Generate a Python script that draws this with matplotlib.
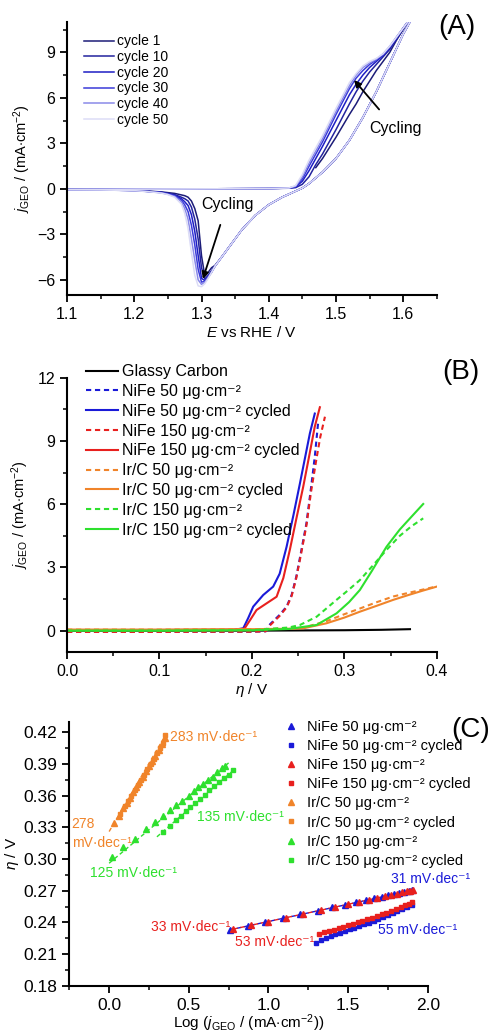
import numpy as np
import matplotlib
matplotlib.use('Agg')
import matplotlib.pyplot as plt
from matplotlib.ticker import MultipleLocator

plt.rcParams['font.family'] = ['Liberation Sans', 'DejaVu Sans']
plt.rcParams['mathtext.fontset'] = 'custom'
plt.rcParams['mathtext.rm'] = 'Liberation Sans'
plt.rcParams['mathtext.it'] = 'Liberation Sans:italic'
plt.rcParams['mathtext.bf'] = 'Liberation Sans:bold'

# ---------------- (A) CV cycling data ----------------
cycle_names = ['cycle 1', 'cycle 10', 'cycle 20', 'cycle 30', 'cycle 40', 'cycle 50']
cycle_colors = ['#1c1c78', '#23239e', '#1e1ec4', '#3a3ad8', '#8a8ae8', '#dcdcf6']

E_fwd = [1.10, 1.20, 1.30, 1.40, 1.43, 1.44, 1.45, 1.46, 1.47, 1.48, 1.50,
         1.52, 1.53, 1.54, 1.55, 1.56, 1.57, 1.58, 1.59, 1.60, 1.61]
j_fwd_c1 = [np.nan, np.nan, np.nan, np.nan, np.nan, np.nan, np.nan, np.nan, 1.4, 2.0, 3.4,
            4.9, 5.6, 6.4, 7.1, 7.8, 8.4, 9.0, 9.8, 10.5, 11.2]
j_fwd_c10 = [-0.05, -0.02, 0.0, 0.02, 0.04, 0.08, 0.3, 0.8, 1.6, 2.3, 3.9,
             5.6, 6.4, 7.1, 7.7, 8.2, 8.7, 9.2, 9.9, 10.6, 11.2]
j_fwd_c20 = [-0.05, -0.02, 0.0, 0.02, 0.05, 0.12, 0.5, 1.2, 2.0, 2.8, 4.5,
             6.2, 6.9, 7.5, 8.0, 8.4, 8.8, 9.3, 9.9, 10.6, 11.2]
j_fwd_c30 = [-0.05, -0.02, 0.0, 0.02, 0.05, 0.15, 0.65, 1.5, 2.3, 3.1, 4.9,
             6.6, 7.3, 7.8, 8.2, 8.5, 8.85, 9.35, 10.0, 10.6, 11.2]
j_fwd_c40 = [-0.05, -0.02, 0.0, 0.02, 0.05, 0.18, 0.8, 1.7, 2.5, 3.3, 5.1,
             6.8, 7.5, 8.0, 8.3, 8.55, 8.9, 9.4, 10.0, 10.6, 11.2]
j_fwd_c50 = [-0.05, -0.02, 0.0, 0.02, 0.06, 0.22, 0.95, 1.9, 2.7, 3.5, 5.3,
             7.0, 7.6, 8.1, 8.4, 8.6, 8.9, 9.4, 10.0, 10.6, 11.2]

E_rev = [1.61, 1.60, 1.58, 1.56, 1.54, 1.52, 1.50, 1.48, 1.46, 1.45,
         1.44, 1.43, 1.42, 1.40, 1.38, 1.36, 1.34, 1.33, 1.32, 1.315,
         1.31, 1.305, 1.30, 1.295, 1.29, 1.285, 1.28, 1.275, 1.27, 1.26,
         1.25, 1.24, 1.22, 1.20, 1.15, 1.10]
j_rev_c1 = [11.0, 10.2, 8.3, 6.4, 4.7, 3.2, 2.0, 1.1, 0.35, 0.05,
            -0.15, -0.35, -0.55, -1.05, -1.75, -2.7, -3.9, -4.5, -5.05, -5.2,
            -5.5, -5.77, -4.4, -2.1, -1.3, -0.8, -0.55, -0.45, -0.4, -0.3,
            -0.25, -0.2, -0.15, -0.1, -0.07, -0.05]
j_rev_c10 = [11.0, 10.2, 8.3, 6.4, 4.7, 3.2, 2.0, 1.1, 0.35, 0.05,
             -0.15, -0.35, -0.55, -1.05, -1.75, -2.7, -3.9, -4.5, -5.1, -5.4,
             -5.7, -5.95, -5.2, -3.3, -2.0, -1.2, -0.8, -0.65, -0.55, -0.38,
             -0.3, -0.22, -0.16, -0.1, -0.07, -0.05]
j_rev_c20 = [11.0, 10.2, 8.3, 6.4, 4.7, 3.2, 2.0, 1.1, 0.35, 0.05,
             -0.15, -0.35, -0.55, -1.05, -1.75, -2.7, -3.9, -4.5, -5.1, -5.45,
             -5.75, -6.05, -5.9, -4.4, -2.8, -1.7, -1.1, -0.85, -0.65, -0.42,
             -0.32, -0.24, -0.17, -0.11, -0.07, -0.05]
j_rev_c30 = [11.0, 10.2, 8.3, 6.4, 4.7, 3.2, 2.0, 1.1, 0.35, 0.05,
             -0.15, -0.35, -0.55, -1.05, -1.75, -2.7, -3.9, -4.5, -5.1, -5.5,
             -5.8, -6.1, -6.15, -5.3, -3.7, -2.4, -1.5, -1.05, -0.75, -0.45,
             -0.34, -0.25, -0.17, -0.11, -0.07, -0.05]
j_rev_c40 = [11.0, 10.2, 8.3, 6.4, 4.7, 3.2, 2.0, 1.1, 0.35, 0.05,
             -0.15, -0.35, -0.55, -1.05, -1.75, -2.7, -3.9, -4.5, -5.1, -5.5,
             -5.85, -6.15, -6.3, -6.0, -4.7, -3.3, -2.0, -1.3, -0.85, -0.5,
             -0.36, -0.26, -0.18, -0.12, -0.07, -0.05]
j_rev_c50 = [11.0, 10.2, 8.3, 6.4, 4.7, 3.2, 2.0, 1.1, 0.35, 0.05,
             -0.15, -0.35, -0.55, -1.05, -1.75, -2.7, -3.9, -4.5, -5.1, -5.5,
             -5.9, -6.25, -6.45, -6.4, -5.7, -4.2, -2.6, -1.6, -1.0, -0.55,
             -0.38, -0.28, -0.18, -0.12, -0.07, -0.05]

# ---------------- (B) polarisation curves ----------------
eta_gc = [0.0, 0.10, 0.20, 0.30, 0.34, 0.371]
j_gc = [0.0, 0.0, 0.0, 0.02, 0.04, 0.07]

eta_nife50 = [0.0, 0.10, 0.20, 0.215, 0.2195, 0.23, 0.2375, 0.243, 0.248, 0.253, 0.259, 0.264, 0.268, 0.2717]
j_nife50 = [-0.05, -0.05, -0.05, -0.03, 0.3, 0.75, 1.14, 1.7, 2.56, 3.7, 5.1, 6.8, 8.25, 9.9]
eta_nife50c = [0.0, 0.10, 0.18, 0.1906, 0.196, 0.2014, 0.2122, 0.223, 0.23, 0.2375, 0.245, 0.252, 0.2627, 0.268]
j_nife50c = [0.03, 0.03, 0.04, 0.11, 0.6, 1.14, 1.69, 2.09, 2.7, 3.98, 5.5, 7.0, 9.36, 10.3]
eta_nife150 = [0.0, 0.10, 0.20, 0.215, 0.2195, 0.23, 0.2375, 0.243, 0.248, 0.253, 0.259, 0.264, 0.270, 0.274, 0.279]
j_nife150 = [-0.06, -0.06, -0.05, -0.03, 0.25, 0.7, 1.1, 1.65, 2.5, 3.6, 5.0, 6.6, 8.2, 9.2, 10.15]
eta_nife150c = [0.0, 0.10, 0.18, 0.192, 0.198, 0.205, 0.216, 0.2267, 0.234, 0.241, 0.248, 0.2555, 0.262, 0.268, 0.2735]
j_nife150c = [0.03, 0.03, 0.04, 0.1, 0.5, 0.98, 1.3, 1.61, 2.5, 3.83, 5.3, 6.83, 8.3, 9.68, 10.6]
eta_irc50 = [0.0, 0.10, 0.20, 0.24, 0.2555, 0.2807, 0.30, 0.3168, 0.335, 0.3528, 0.37, 0.385, 0.40]
j_irc50 = [0.05, 0.05, 0.07, 0.1, 0.14, 0.45, 0.78, 1.05, 1.35, 1.62, 1.8, 1.95, 2.1]
eta_irc50c = [0.0, 0.10, 0.20, 0.24, 0.2555, 0.2807, 0.30, 0.3168, 0.335, 0.3528, 0.37, 0.385, 0.40]
j_irc50c = [0.05, 0.05, 0.07, 0.09, 0.11, 0.35, 0.62, 0.9, 1.18, 1.46, 1.7, 1.9, 2.09]
eta_irc150 = [0.0, 0.10, 0.20, 0.24, 0.252, 0.27, 0.2915, 0.305, 0.3168, 0.33, 0.3456, 0.36, 0.3725, 0.3853]
j_irc150 = [0.0, 0.0, 0.02, 0.15, 0.27, 0.66, 1.46, 1.95, 2.4, 3.05, 3.83, 4.5, 4.95, 5.33]
eta_irc150c = [0.0, 0.10, 0.20, 0.24, 0.2447, 0.27, 0.2915, 0.305, 0.3168, 0.33, 0.3456, 0.36, 0.3725, 0.3853]
j_irc150c = [0.0, 0.0, 0.02, 0.08, 0.11, 0.27, 0.82, 1.35, 1.93, 2.85, 3.98, 4.8, 5.4, 6.01]

# ---------------- (C) Tafel data ----------------
x_nife50 = [0.76, 0.87, 0.98, 1.09, 1.20, 1.31, 1.40, 1.48, 1.55, 1.61, 1.66, 1.71, 1.75, 1.79, 1.82, 1.85, 1.88, 1.90]
y_nife50 = [0.2332, 0.2368, 0.2404, 0.2440, 0.2476, 0.2512, 0.2542, 0.2568, 0.2591, 0.2610, 0.2627, 0.2643, 0.2656, 0.2669, 0.2679, 0.2689, 0.2697, 0.2702]
x_nife50c = [1.30, 1.33, 1.36, 1.39, 1.42, 1.45, 1.48, 1.51, 1.54, 1.57, 1.60, 1.63, 1.66, 1.69, 1.72, 1.75, 1.78, 1.81, 1.84, 1.87, 1.90]
y_nife50c = [0.2205, 0.2235, 0.2255, 0.2272, 0.2288, 0.2303, 0.2318, 0.2333, 0.2349, 0.2365, 0.2381, 0.2398, 0.2415, 0.2432, 0.2450, 0.2468, 0.2486, 0.2505, 0.2524, 0.2543, 0.2560]
x_nife150 = [0.78, 0.89, 1.00, 1.11, 1.22, 1.33, 1.42, 1.50, 1.57, 1.63, 1.68, 1.73, 1.77, 1.81, 1.84, 1.87, 1.89, 1.91]
y_nife150 = [0.2336, 0.2372, 0.2408, 0.2444, 0.2480, 0.2516, 0.2546, 0.2572, 0.2595, 0.2614, 0.2631, 0.2647, 0.2660, 0.2673, 0.2683, 0.2693, 0.2700, 0.2706]
x_nife150c = [1.32, 1.35, 1.38, 1.41, 1.44, 1.47, 1.50, 1.53, 1.56, 1.59, 1.62, 1.65, 1.68, 1.71, 1.74, 1.77, 1.80, 1.83, 1.86, 1.88, 1.90]
y_nife150c = [0.2290, 0.2305, 0.2318, 0.2331, 0.2344, 0.2357, 0.2371, 0.2385, 0.2399, 0.2414, 0.2429, 0.2444, 0.2460, 0.2476, 0.2492, 0.2509, 0.2526, 0.2544, 0.2563, 0.2578, 0.2595]
x_irc50 = [0.03, 0.06, 0.09, 0.11, 0.13, 0.15, 0.17, 0.19, 0.21, 0.23, 0.25, 0.27, 0.29, 0.31, 0.33, 0.35]
y_irc50 = [0.334, 0.341, 0.348, 0.353, 0.358, 0.363, 0.368, 0.373, 0.378, 0.383, 0.388, 0.393, 0.398, 0.403, 0.409, 0.415]
x_irc50c = [0.07, 0.10, 0.12, 0.14, 0.16, 0.18, 0.20, 0.22, 0.24, 0.26, 0.28, 0.30, 0.32, 0.34, 0.35]
y_irc50c = [0.343, 0.350, 0.355, 0.360, 0.365, 0.370, 0.375, 0.380, 0.385, 0.390, 0.395, 0.400, 0.405, 0.410, 0.417]
x_irc150 = [0.02, 0.09, 0.16, 0.23, 0.29, 0.34, 0.38, 0.42, 0.46, 0.50, 0.53, 0.56, 0.59, 0.62, 0.65, 0.68, 0.71, 0.73]
y_irc150 = [0.302, 0.311, 0.319, 0.328, 0.335, 0.341, 0.346, 0.351, 0.355, 0.360, 0.364, 0.368, 0.371, 0.375, 0.378, 0.382, 0.386, 0.388]
x_irc150c = [0.34, 0.38, 0.42, 0.45, 0.48, 0.51, 0.54, 0.57, 0.60, 0.63, 0.66, 0.69, 0.72, 0.75, 0.78]
y_irc150c = [0.326, 0.331, 0.337, 0.341, 0.345, 0.349, 0.353, 0.357, 0.361, 0.365, 0.369, 0.373, 0.377, 0.380, 0.384]

# linear fits (end points)
fit_nife_x = [0.76, 1.91]
fit_nife_y = [0.2330, 0.2705]
fit_irc50_x = [0.0, 0.36]
fit_irc50_y = [0.326, 0.419]
fit_irc150_x = [0.0, 0.75]
fit_irc150_y = [0.296, 0.391]
fit_irc150c_x = [0.30, 0.78]
fit_irc150c_y = [0.321, 0.384]

c_blue = '#1a1ad8'
c_red = '#e8201e'
c_orange = '#f0842a'
c_green = '#2ee02e'

fs = 11.5
lab = 11


def style(ax, lsize=fs):
    for s in ['top', 'right']:
        ax.spines[s].set_visible(False)
    for s in ['left', 'bottom']:
        ax.spines[s].set_linewidth(1.5)
    ax.tick_params(which='major', direction='out', length=5, width=1.3, labelsize=lsize)
    ax.tick_params(which='minor', direction='out', length=3, width=1.1)


fig = plt.figure(figsize=(4.93, 10.34), dpi=100)

# ---- A ----
axA = fig.add_axes([0.136, 0.7147, 0.750, 0.264])
fwd = [j_fwd_c1, j_fwd_c10, j_fwd_c20, j_fwd_c30, j_fwd_c40, j_fwd_c50]
rev = [j_rev_c1, j_rev_c10, j_rev_c20, j_rev_c30, j_rev_c40, j_rev_c50]
for name, col, jf, jr in zip(cycle_names, cycle_colors, fwd, rev):
    axA.plot(E_rev, jr, color=col, lw=1.1, label=name)
    axA.plot(E_fwd, jf, color=col, lw=1.1)
axA.set_xlim(1.1, 1.65)
axA.set_ylim(-7, 11)
axA.xaxis.set_major_locator(MultipleLocator(0.1))
axA.xaxis.set_minor_locator(MultipleLocator(0.05))
axA.yaxis.set_major_locator(MultipleLocator(3))
axA.yaxis.set_minor_locator(MultipleLocator(1.5))
style(axA)
axA.set_xlabel(r'$E$ vs RHE / V', fontsize=lab, labelpad=2)
axA.set_ylabel(r'$j_{\mathrm{GEO}}$ / (mA$\cdot$cm$^{-2}$)', fontsize=10.5, labelpad=3)
axA.legend(loc='upper left', bbox_to_anchor=(0.02, 0.99), frameon=False, fontsize=10,
           handlelength=2.15, handletextpad=0.2, labelspacing=0.12, borderpad=0.2)
axA.annotate('Cycling', xy=(1.527, 7.17), xytext=(1.588, 4.0), fontsize=fs,
             ha='center', va='center',
             arrowprops=dict(arrowstyle='-|>', color='black', lw=1.3, shrinkA=8, shrinkB=0,
                             mutation_scale=10))
axA.annotate('Cycling', xy=(1.302, -5.94), xytext=(1.338, -1.0), fontsize=fs,
             ha='center', va='center',
             arrowprops=dict(arrowstyle='-|>', color='black', lw=1.3, shrinkA=8, shrinkB=0,
                             mutation_scale=10))
fig.text(0.927, 0.974, '(A)', fontsize=20, ha='center', va='center')

# ---- B ----
axB = fig.add_axes([0.136, 0.3697, 0.750, 0.265])
mu = '\u03bcg\u00b7cm\u207b\u00b2'
axB.plot(eta_gc, j_gc, color='black', lw=1.5, label='Glassy Carbon')
axB.plot(eta_nife50, j_nife50, color=c_blue, lw=1.5, ls=(0, (2.5, 1.8)), label='NiFe 50 ' + mu)
axB.plot(eta_nife50c, j_nife50c, color=c_blue, lw=1.5, label='NiFe 50 ' + mu + ' cycled')
axB.plot(eta_nife150, j_nife150, color=c_red, lw=1.5, ls=(0, (2.5, 1.8)), label='NiFe 150 ' + mu)
axB.plot(eta_nife150c, j_nife150c, color=c_red, lw=1.5, label='NiFe 150 ' + mu + ' cycled')
axB.plot(eta_irc50, j_irc50, color=c_orange, lw=1.5, ls=(0, (2.5, 1.8)), label='Ir/C 50 ' + mu)
axB.plot(eta_irc50c, j_irc50c, color=c_orange, lw=1.5, label='Ir/C 50 ' + mu + ' cycled')
axB.plot(eta_irc150, j_irc150, color=c_green, lw=1.5, ls=(0, (2.5, 1.8)), label='Ir/C 150 ' + mu)
axB.plot(eta_irc150c, j_irc150c, color=c_green, lw=1.5, label='Ir/C 150 ' + mu + ' cycled')
axB.set_xlim(0, 0.4)
axB.set_ylim(-1, 12)
axB.xaxis.set_major_locator(MultipleLocator(0.1))
axB.xaxis.set_minor_locator(MultipleLocator(0.05))
axB.yaxis.set_major_locator(MultipleLocator(3))
axB.yaxis.set_minor_locator(MultipleLocator(1.5))
style(axB)
axB.set_xlabel(r'$\eta$ / V', fontsize=lab, labelpad=2)
axB.set_ylabel(r'$j_{\mathrm{GEO}}$ / (mA$\cdot$cm$^{-2}$)', fontsize=10.5, labelpad=5)
axB.legend(loc='upper left', bbox_to_anchor=(0.02, 1.09), frameon=False, fontsize=11.5,
           handlelength=2.0, handletextpad=0.3, labelspacing=0.3, borderpad=0.2)
fig.text(0.935, 0.640, '(B)', fontsize=20, ha='center', va='center')

# ---- C ----
axC = fig.add_axes([0.1406, 0.0467, 0.727, 0.2553])
ms = 3.8
axC.plot(fit_nife_x, fit_nife_y, color=c_blue, lw=1.0, ls=(0, (3, 2)))
axC.plot(fit_nife_x, fit_nife_y, color=c_red, lw=1.0, ls=(2.5, (3, 2)))
axC.plot(fit_irc50_x, fit_irc50_y, color=c_orange, lw=1.0, ls=(0, (3, 2)))
axC.plot(fit_irc150_x, fit_irc150_y, color=c_green, lw=1.0, ls=(0, (3, 2)))
axC.plot(fit_irc150c_x, fit_irc150c_y, color=c_green, lw=1.0, ls=(0, (3, 2)))
axC.plot(x_nife50, y_nife50, '^', color=c_blue, ms=ms, ls='none', label='NiFe 50 ' + mu)
axC.plot(x_nife50c, y_nife50c, 's', color=c_blue, ms=ms - 0.7, ls='none', label='NiFe 50 ' + mu + ' cycled')
axC.plot(x_nife150, y_nife150, '^', color=c_red, ms=ms, ls='none', label='NiFe 150 ' + mu)
axC.plot(x_nife150c, y_nife150c, 's', color=c_red, ms=ms - 0.7, ls='none', label='NiFe 150 ' + mu + ' cycled')
axC.plot(x_irc50, y_irc50, '^', color=c_orange, ms=ms, ls='none', label='Ir/C 50 ' + mu)
axC.plot(x_irc50c, y_irc50c, 's', color=c_orange, ms=ms - 0.7, ls='none', label='Ir/C 50 ' + mu + ' cycled')
axC.plot(x_irc150, y_irc150, '^', color=c_green, ms=ms, ls='none', label='Ir/C 150 ' + mu)
axC.plot(x_irc150c, y_irc150c, 's', color=c_green, ms=ms - 0.7, ls='none', label='Ir/C 150 ' + mu + ' cycled')
axC.set_xlim(-0.25, 2.0)
axC.set_ylim(0.18, 0.43)
axC.xaxis.set_major_locator(MultipleLocator(0.5))
axC.xaxis.set_minor_locator(MultipleLocator(0.25))
axC.yaxis.set_major_locator(MultipleLocator(0.03))
axC.yaxis.set_minor_locator(MultipleLocator(0.015))
style(axC, 12.5)
axC.set_xlabel(r'Log ($j_{\mathrm{GEO}}$ / (mA$\cdot$cm$^{-2}$))', fontsize=lab, labelpad=0)
axC.set_ylabel(r'$\eta$ / V', fontsize=lab, labelpad=2)
axC.legend(loc='upper left', bbox_to_anchor=(0.57, 1.045), frameon=False, fontsize=10.5,
           handlelength=1.0, handletextpad=0.6, labelspacing=0.35, borderpad=0.2)
tk = dict(fontsize=10, va='center', ha='left')
dec = 'mV\u00b7dec\u207b\u00b9'
axC.text(0.382, 0.4153, '283 ' + dec, color=c_orange, **tk)
axC.text(-0.235, 0.3335, '278', color=c_orange, **tk)
axC.text(-0.235, 0.315, dec, color=c_orange, **tk)
axC.text(0.55, 0.3397, '135 ' + dec, color=c_green, **tk)
axC.text(-0.122, 0.287, '125 ' + dec, color=c_green, **tk)
axC.text(1.767, 0.2815, '31 ' + dec, color=c_blue, **tk)
axC.text(0.262, 0.2358, '33 ' + dec, color=c_red, **tk)
axC.text(0.793, 0.221, '53 ' + dec, color=c_red, **tk)
axC.text(1.69, 0.2326, '55 ' + dec, color=c_blue, **tk)
fig.text(0.955, 0.294, '(C)', fontsize=20, ha='center', va='center')

fig.savefig('out.png', dpi=100)
